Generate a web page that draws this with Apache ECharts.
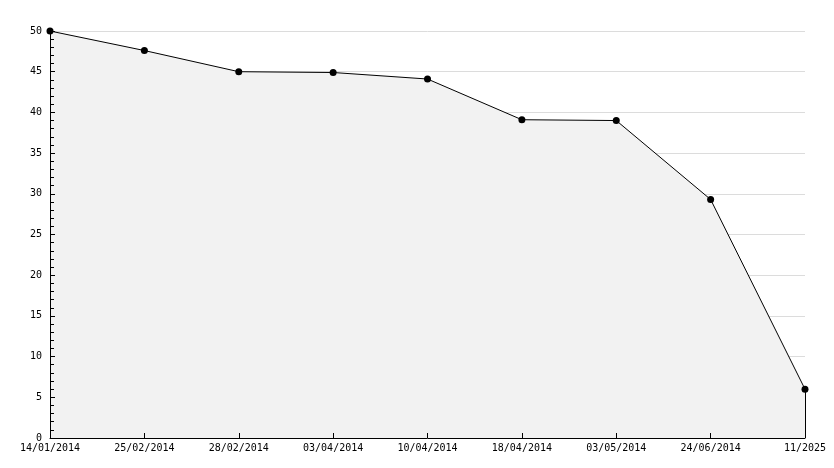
<!DOCTYPE html>
<html><head><meta charset="utf-8">
<script src="https://cdn.jsdelivr.net/npm/echarts@6/dist/echarts.min.js"></script>
<style>html,body{margin:0;padding:0;background:#fff}#c{width:834px;height:468px}</style>
</head><body><div id="c"></div>
<script>
const categories = ['14/01/2014','25/02/2014','28/02/2014','03/04/2014','10/04/2014','18/04/2014','03/05/2014','24/06/2014','11/2025'];
const values = [50, 47.6, 45.0, 44.9, 44.1, 39.1, 39.0, 29.3, 6.0];
const yMin = 0, yMax = 50, yStep = 5;
const font = 'DejaVu Sans Mono';
const last = categories.length - 1;
const chart = echarts.init(document.getElementById('c'), null, {renderer: 'canvas'});
chart.setOption({
  animation: false,
  backgroundColor: '#fff',
  grid: {left: 50, right: 29, top: 31, bottom: 30, containLabel: false},
  xAxis: [{
    type: 'category', data: categories, boundaryGap: false, z: 0,
    axisLine: {show: false}, axisTick: {show: false},
    axisLabel: {color: '#000', fontFamily: font, fontSize: 10, margin: 5, interval: 0},
    splitLine: {show: false}
  }, {
    type: 'category', data: categories, boundaryGap: false, z: 5, position: 'bottom',
    axisLine: {show: true, onZero: false, lineStyle: {color: '#000', width: 1}},
    axisTick: {show: true, inside: true, length: 5, interval: 0, lineStyle: {color: '#000'}},
    axisLabel: {show: false},
    splitLine: {show: false}
  }],
  yAxis: [{
    type: 'value', min: yMin, max: yMax, interval: yStep, z: 0,
    axisLine: {show: false}, axisTick: {show: false},
    axisLabel: {color: '#000', fontFamily: font, fontSize: 10, margin: 8},
    splitLine: {show: true, lineStyle: {color: '#dcdcdc', width: 1}}
  }, {
    type: 'value', min: yMin, max: yMax, interval: yStep, z: 5, position: 'left',
    axisLine: {show: true, onZero: false, lineStyle: {color: '#000', width: 1}},
    axisTick: {show: true, inside: true, length: 5, lineStyle: {color: '#000'}},
    minorTick: {show: true, splitNumber: 5, length: 4, lineStyle: {color: '#000'}},
    axisLabel: {show: false},
    splitLine: {show: false}
  }],
  series: [{
    type: 'line', data: values, z: 2,
    symbol: 'circle', symbolSize: 7,
    itemStyle: {color: '#000'},
    lineStyle: {color: '#000', width: 1},
    areaStyle: {color: '#f2f2f2', opacity: 1},
    markLine: {
      silent: true, symbol: 'none', label: {show: false},
      lineStyle: {color: '#000', width: 1, type: 'solid'},
      data: [[{coord: [last, yMin]}, {coord: [last, values[last]]}]]
    }
  }]
});
</script></body></html>
